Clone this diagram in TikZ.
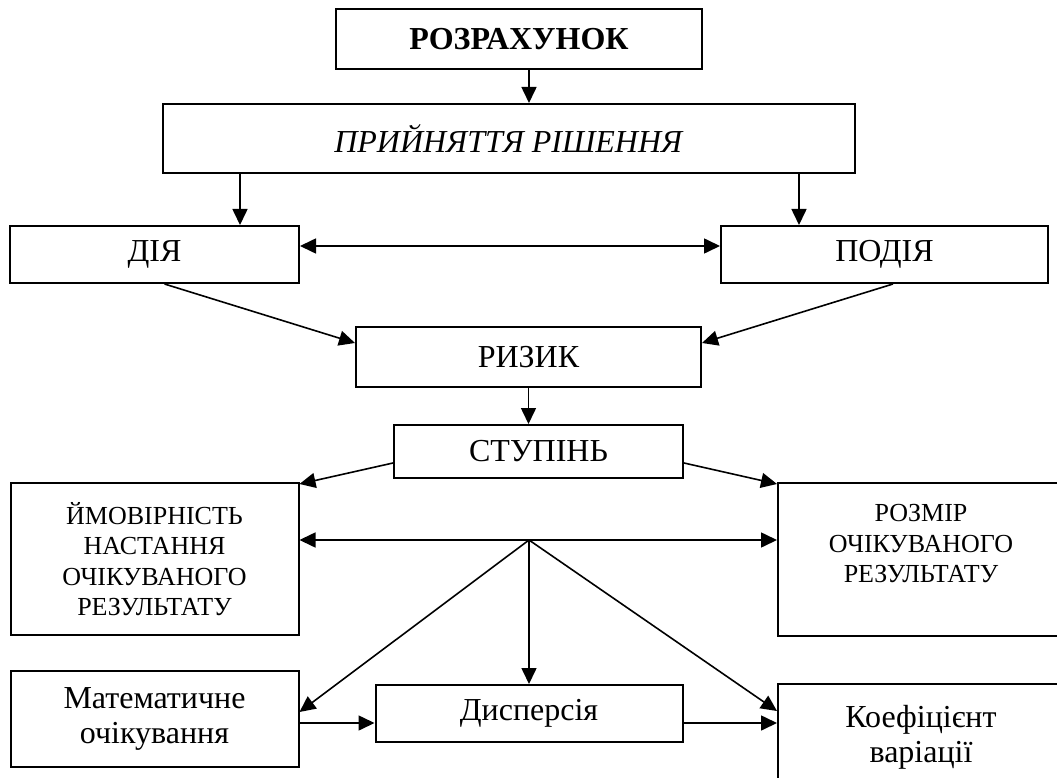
\documentclass[tikz,border=0pt]{standalone}
\usepackage{fontspec}
\setmainfont{Liberation Serif}
\usepackage{tikz}
\usetikzlibrary{arrows.meta,positioning}
\tikzstyle{blk}=[rectangle,draw=black,line width=2pt,align=center,inner sep=2pt,
                font=\fontsize{32}{35}\selectfont]
\tikzstyle{bigblk}=[blk,font=\fontsize{26}{30.5}\selectfont]
\tikzstyle{arr}=[-{Triangle[length=16pt,width=15pt]},line width=1.6pt,draw=black]
\tikzstyle{darr}=[{Triangle[length=16pt,width=15pt]}-{Triangle[length=16pt,width=15pt]},line width=1.6pt,draw=black]

\begin{document}
\begin{tikzpicture}[x=1pt,y=-1pt]
    \useasboundingbox (0,0) rectangle (1057,778);
    \clip (0,0) rectangle (1057,778);

    % Draw the upper nodes
    \node[blk,minimum width=366,minimum height=60] (rozr) at (519,39) {\textbf{РОЗРАХУНОК}};
    \node[blk,minimum width=692,minimum height=69] (pryin) at (509,138.5) {\textit{ПРИЙНЯТТЯ РІШЕННЯ}};
    \node[blk,minimum width=289,minimum height=57] (diya) at (154.5,254.5) {ДІЯ};
    \node[blk,minimum width=327,minimum height=57] (podiya) at (884.5,254.5) {ПОДІЯ};
    \node[blk,minimum width=345,minimum height=60] (ryzyk) at (528.5,357) {РИЗИК};
    \node[blk,minimum width=289,minimum height=53] (stupin) at (538.5,451.5) {СТУПІНЬ};

    % Draw the middle nodes
    \node[bigblk,minimum width=288,minimum height=152] (ymov) at (154.5,559)
        {ЙМОВІРНІСТЬ\\НАСТАННЯ\\ОЧІКУВАНОГО\\РЕЗУЛЬТАТУ};
    \node[bigblk,minimum width=286,minimum height=153,text depth=32pt] (rozmir) at (921,559.5)
        {РОЗМІР\\ОЧІКУВАНОГО\\РЕЗУЛЬТАТУ};

    % Draw the lower nodes
    \node[blk,minimum width=288,minimum height=96] (matem) at (154.5,719) {Математичне\\очікування};
    \node[blk,minimum width=307,minimum height=57] (dysp) at (529,713.5) {Дисперсія};
    \node[blk,minimum width=286,minimum height=106] (koef) at (921,737) {Коефіцієнт\\варіації};

    \coordinate (hub) at (529,540);

    %connect nodes
    \draw[arr] (rozr.south -| hub) -- (pryin.north -| hub);
    \draw[arr] ([xshift=78pt]pryin.south west) -- ([xshift=78pt]pryin.south west |- diya.north);
    \draw[arr] ([xshift=-57pt]pryin.south east) -- ([xshift=-57pt]pryin.south east |- podiya.north);
    \draw[darr] ([yshift=8.5pt]diya.east) -- ([yshift=8.5pt]diya.east -| podiya.west);
    \draw[arr] ([xshift=10pt]diya.south) -- ([yshift=14pt]ryzyk.west);
    \draw[arr] ([xshift=8.5pt]podiya.south) -- ([yshift=14pt]ryzyk.east);
    \draw[arr] (ryzyk.south) -- (ryzyk.south |- stupin.north);

    %connect stupin with the measures
    \draw[arr] ([yshift=-11.5pt]stupin.west) -- ([yshift=-2pt]ymov.north east);
    \draw[arr] ([yshift=-11.5pt]stupin.east) -- ([yshift=-2pt]rozmir.north west);
    \draw[darr] (ymov.east |- hub) -- (rozmir.west |- hub);
    \draw[arr] (hub) -- ([yshift=7pt]matem.east);
    \draw[arr] (hub) -- (dysp.north);
    \draw[arr] (hub) -- ([yshift=-28pt]koef.north west);
    \draw[arr] ([yshift=-4pt]matem.east) -- ([yshift=-4pt]matem.east -| dysp.west);
    \draw[arr] ([yshift=-9.5pt]dysp.east) -- ([yshift=-9.5pt]dysp.east -| koef.west);
\end{tikzpicture}
\end{document}
